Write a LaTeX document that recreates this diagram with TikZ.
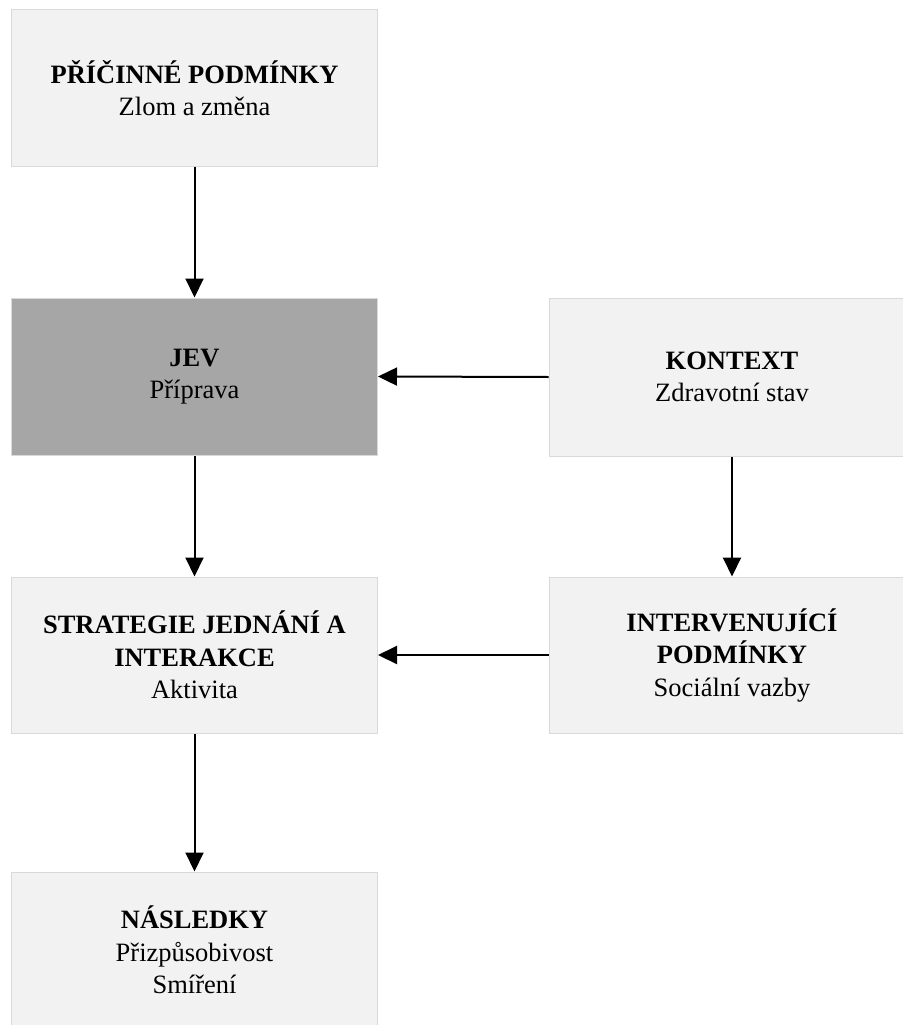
\documentclass[tikz,border=0pt]{standalone}
\usepackage{fontspec}
\setmainfont{Liberation Serif}
\usetikzlibrary{arrows.meta}
\definecolor{boxlight}{HTML}{F2F2F2}
\definecolor{boxdark}{HTML}{A6A6A6}
\definecolor{boxline}{HTML}{D9D9D9}
\tikzset{
  box/.style={draw=boxline, line width=1pt, fill=boxlight, minimum width=366pt,
    minimum height=156pt, align=center, inner sep=0pt,
    font=\fontsize{26.5}{32.5}\selectfont},
  darkbox/.style={box, fill=boxdark},
  arr/.style={line width=2pt, -{Triangle[length=19pt,width=18pt]}}
}
\begin{document}
\begin{tikzpicture}[x=1pt,y=-1pt]
\useasboundingbox (0,0) rectangle (902,1025);
\node[box] (pric) at (194.5,88) {\textbf{PŘÍČINNÉ PODMÍNKY}\\Zlom a změna};
\node[darkbox, minimum height=157pt] (jev) at (194.5,376.5) {\textbf{JEV}\\Příprava};
\node[box, minimum height=158pt] (kon) at (732,377) {\textbf{KONTEXT}\\Zdravotní stav};
\node[box] (str) at (194.5,655) {\textbf{STRATEGIE JEDNÁNÍ A}\\\textbf{INTERAKCE}\\Aktivita};
\node[box] (int) at (732,655) {\textbf{INTERVENUJÍCÍ}\\\textbf{PODMÍNKY}\\Sociální vazby};
\node[box] (nas) at (194.5,950) {\textbf{NÁSLEDKY}\\Přizpůsobivost\\Smíření};
\draw[arr] (pric.south) -- (jev.north);
\draw[arr] (kon.west) -- (jev.east);
\draw[arr] (jev.south) -- (str.north);
\draw[arr] (kon.south) -- (int.north);
\draw[arr] (int.west) -- (str.east);
\draw[arr] (str.south) -- (nas.north);
\end{tikzpicture}
\end{document}
